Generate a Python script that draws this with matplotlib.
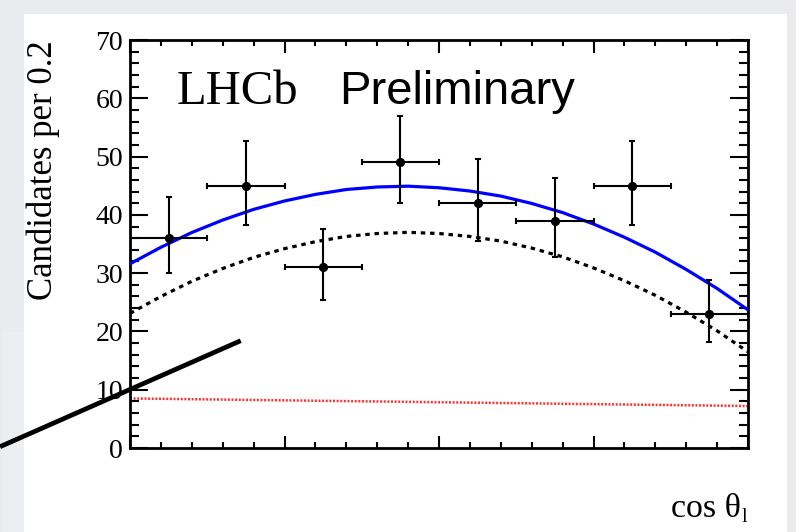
import numpy as np
import matplotlib
matplotlib.use("Agg")
import matplotlib.pyplot as plt
from matplotlib.ticker import MultipleLocator
from matplotlib.patches import Rectangle
from matplotlib.lines import Line2D

# ---- data: candidates per bin in cos(theta_l) ----
bin_edges = [-1.0, -0.75, -0.5, -0.25, 0.0, 0.25, 0.5, 0.75, 1.0]
counts = [36, 45, 31, 49, 42, 39, 45, 23]
err_lo = [6.0, 6.7, 5.6, 7.0, 6.5, 6.2, 6.7, 4.8]
err_hi = [7.0, 7.7, 6.6, 8.0, 7.5, 7.3, 7.7, 5.9]

# ---- fit projections sampled along cos(theta_l) ----
fit_x = [-1.0, -0.9, -0.8, -0.7, -0.6, -0.5, -0.4, -0.3, -0.2, -0.1, 0.0,
         0.1, 0.2, 0.3, 0.4, 0.5, 0.6, 0.7, 0.8, 0.9, 1.0]
fit_signal = [23.1, 26.0, 28.6, 30.8, 32.7, 34.2, 35.4, 36.3, 36.8, 37.0, 36.8,
              36.3, 35.5, 34.3, 32.8, 30.9, 28.7, 26.2, 23.3, 20.1, 16.5]
fit_background = [8.50, 8.44, 8.37, 8.31, 8.24, 8.18, 8.11, 8.05, 7.98, 7.92, 7.85,
                  7.79, 7.72, 7.66, 7.59, 7.53, 7.46, 7.40, 7.33, 7.27, 7.20]

y_ticks = [0, 10, 20, 30, 40, 50, 60, 70]

W, H = 796, 532
fig = plt.figure(figsize=(W / 100, H / 100), dpi=100)
fig.patch.set_facecolor("#e9ebee")

# white slide panel behind everything
fig.patches.append(Rectangle((24 / W, 0), (787 - 24) / W, (H - 14) / H,
                             transform=fig.transFigure, facecolor="white",
                             edgecolor="none", zorder=-5))
fig.patches.append(Rectangle((3 / W, 0), 21 / W, (H - 332) / H,
                             transform=fig.transFigure, facecolor="#eceef0",
                             edgecolor="none", zorder=-5))

ax = fig.add_axes([130 / W, 1 - 448 / H, (748 - 130) / W, (448 - 40) / H])
ax.set_zorder(1)
ax.set_facecolor("white")

edges = np.array(bin_edges)
centers = 0.5 * (edges[:-1] + edges[1:])
half = 0.5 * np.diff(edges)

fx = np.array(fit_x)
sig = np.array(fit_signal)
bkg = np.array(fit_background)
total = sig + bkg

ax.plot(fx, bkg, color="#ff3030", lw=1.8, ls=(0, (0.8, 0.65)), zorder=2)
ax.plot(fx, sig, color="black", lw=2.3, ls=(0, (1.4, 1.5)), zorder=2)
ax.plot(fx, total, color="#0000ff", lw=2.3, zorder=3)

ax.errorbar(centers, counts, xerr=half, yerr=[err_lo, err_hi], fmt="o",
            color="black", ms=5.6, elinewidth=1.5, capsize=2.3, capthick=1.5,
            zorder=4)

ax.set_xlim(-1, 1)
ax.set_ylim(0, 70)
ax.set_yticks(y_ticks)
ax.yaxis.set_minor_locator(MultipleLocator(2))
ax.xaxis.set_major_locator(MultipleLocator(0.5))
ax.xaxis.set_minor_locator(MultipleLocator(0.1))
ax.tick_params(axis="both", which="both", direction="in", top=True, right=True,
               width=1.5, color="black")
ax.tick_params(axis="y", which="major", length=13, pad=5)
ax.tick_params(axis="y", which="minor", length=6.5)
ax.tick_params(axis="x", which="major", length=9)
ax.tick_params(axis="x", which="minor", length=4.5)
ax.tick_params(axis="x", labelbottom=False)
for lab in ax.get_yticklabels():
    lab.set_fontfamily("Liberation Serif")
    lab.set_fontsize(20)
for sp in ax.spines.values():
    sp.set_linewidth(2.0)

ax.text(0.076, 0.843, "LHCb", transform=ax.transAxes, family="Liberation Serif",
        fontsize=35, va="baseline", ha="left")
ax.text(0.338, 0.843, "Preliminary", transform=ax.transAxes,
        family="Liberation Sans", fontsize=34, va="baseline", ha="left")

fig.text(43 / W, 1 - 40 / H, "Candidates per 0.2", rotation=90,
         family="Liberation Serif", fontsize=25, ha="center", va="top")
fig.text(741 / W, 1 - 516.7 / H, "cos θ", family="Liberation Serif",
         fontsize=24.5, ha="right", va="baseline")
fig.text(742 / W, 1 - 522.5 / H, "l", family="Liberation Serif",
         fontsize=14.5, ha="left", va="baseline")

# pointer stroke across the lower left corner
fig.lines.append(Line2D([0, 240.7 / W], [1 - 446.7 / H, 1 - 340.7 / H],
                        transform=fig.transFigure, color="black", lw=3.4,
                        solid_capstyle="butt", zorder=10))

fig.savefig("out.png", dpi=100, facecolor=fig.get_facecolor())
